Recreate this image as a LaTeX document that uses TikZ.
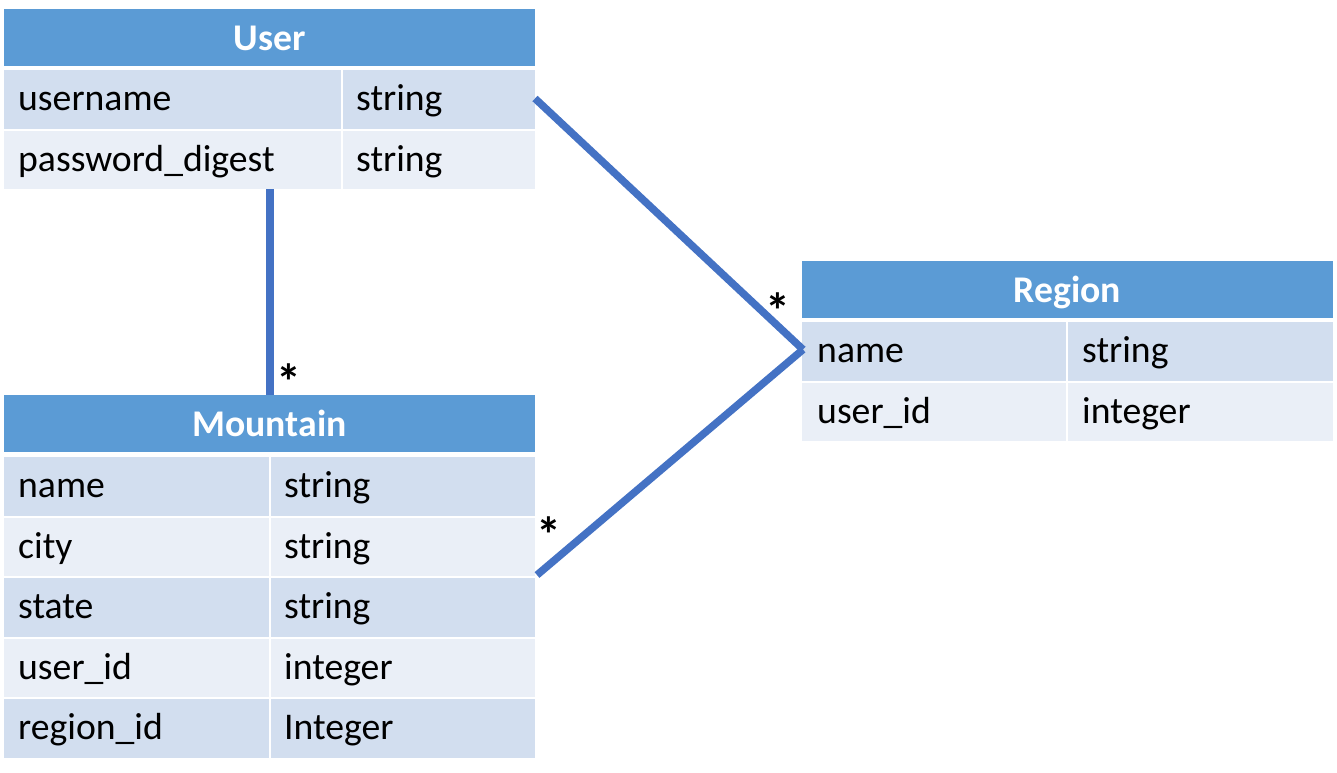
\documentclass[tikz,border=0pt]{standalone}
\usepackage{fontspec}
\setmainfont{Carlito}
\definecolor{hdr}{HTML}{5B9BD5}
\definecolor{rowA}{HTML}{D2DEEF}
\definecolor{rowB}{HTML}{EAEFF7}
\definecolor{conn}{HTML}{4472C4}
\begin{document}
\begin{tikzpicture}[x=1pt,y=-1pt,
  every node/.style={font=\fontsize{37.7}{45}\selectfont},
  hcell/.style={rectangle,fill=hdr,inner sep=0pt,outer sep=0pt,anchor=north west,
    minimum width=531pt,minimum height=57pt},
  htxt/.style={anchor=base,inner sep=0pt,text=white,font=\fontsize{37.7}{45}\selectfont\bfseries},
  txt/.style={anchor=base west,inner sep=0pt},
  connline/.style={draw=conn,line width=7.5pt},
  star/.style={inner sep=0pt,font=\fontsize{50}{60}\selectfont\bfseries}]
\useasboundingbox (0,0) rectangle (1337,772);

% ---------- User ----------
\node[hcell] (uh) at (4,9) {};
\node[htxt] (uht) at (269.5,50) {User};
\fill[rowA] (4,70) rectangle (341,128.5);
\fill[rowA] (343,70) rectangle (535,128.5);
\fill[rowB] (4,130.5) rectangle (341,189);
\fill[rowB] (343,130.5) rectangle (535,189);
\coordinate (u1b) at (535,98.5);
\coordinate (u2bot) at (270,189);
\node[txt] (un) at (18,110.5) {username};
\node[txt] (unt) at (356,110.5) {string};
\node[txt] (upw) at (18,171) {password\_digest};
\node[txt] (upwt) at (356,171) {string};

% ---------- Mountain ----------
\node[hcell] (mh) at (4,395) {};
\node[htxt] (mht) at (269.5,436) {Mountain};
\coordinate (mtop) at (270,395);
\foreach \i/\c/\n/\t in {0/rowA/name/string,1/rowB/city/string,2/rowA/state/string,3/rowB/user\_id/integer,4/rowA/region\_id/Integer}{
  \fill[\c] (4,457+60.5*\i) rectangle (269,515.5+60.5*\i);
  \fill[\c] (271,457+60.5*\i) rectangle (535,515.5+60.5*\i);
  \node[txt] (mf\i) at (18,497.5+60.5*\i) {\n};
  \node[txt] (mt\i) at (284,497.5+60.5*\i) {\t};
}
\coordinate (mcity) at (537,575);

% ---------- Region ----------
\node[hcell] (rh) at (802,261) {};
\node[htxt] (rht) at (1067.5,302) {Region};
\fill[rowA] (802,322) rectangle (1066,380.5);
\fill[rowA] (1068,322) rectangle (1333,380.5);
\fill[rowB] (802,382.5) rectangle (1066,441);
\fill[rowB] (1068,382.5) rectangle (1333,441);
\node[txt] (rn) at (817,362.5) {name};
\node[txt] (rnt) at (1082,362.5) {string};
\node[txt] (ru) at (817,423) {user\_id};
\node[txt] (rut) at (1082,423) {integer};
\coordinate (rw) at (803,349.5);

% ---------- connectors ----------
\draw[connline] (u2bot) -- (mtop);
\draw[connline] (u1b) -- (rw);
\draw[connline] (rw) -- (mcity);

% ---------- multiplicities ----------
\node[star] (s1) at (289,381.5) {*};
\node[star] (s2) at (778,310.5) {*};
\node[star] (s3) at (549,535) {*};
\end{tikzpicture}
\end{document}
